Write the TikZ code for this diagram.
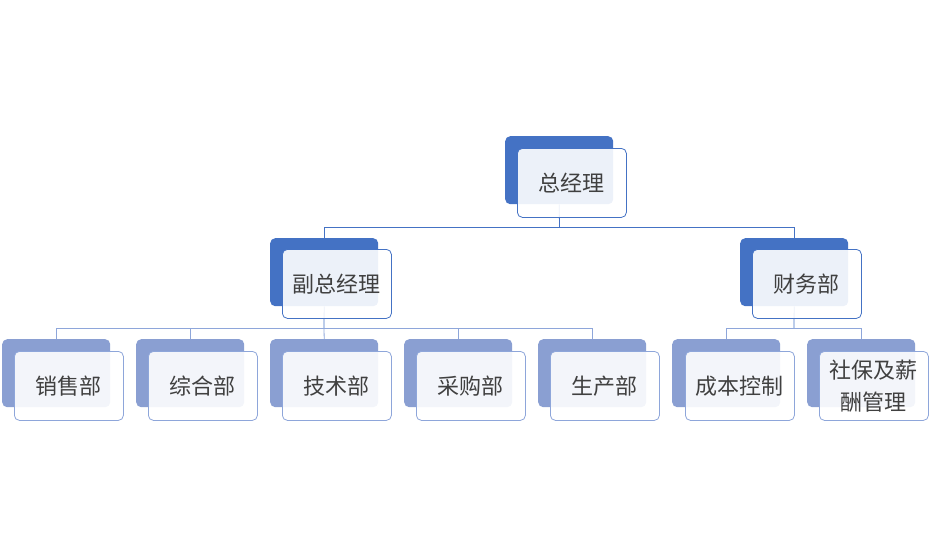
\documentclass[tikz,border=0pt]{standalone}
\usepackage{fontspec}
\setmainfont{Noto Sans CJK SC}
\definecolor{darkb}{HTML}{4472C4}
\definecolor{lightb}{HTML}{8A9FD2}
\definecolor{lightln}{HTML}{8EA6DA}
\definecolor{txt}{HTML}{404040}
\begin{document}
\begin{tikzpicture}[x=1pt,y=-1pt,
  backbox/.style={anchor=north west, rounded corners=5pt, minimum width=108pt, minimum height=68pt, inner sep=0pt, draw=none},
  frontbox/.style={anchor=north west, rounded corners=5pt, minimum width=109pt, minimum height=69pt, inner sep=0pt,
     fill=white, fill opacity=0.9, text opacity=1, line width=0.8pt, align=center, text=txt,
     font=\fontsize{22}{32}\selectfont},
  topback/.style={backbox, fill=darkb},
  topfront/.style={frontbox, draw=darkb},
  lowback/.style={backbox, fill=lightb},
  lowfront/.style={frontbox, draw=lightln},
  darkline/.style={draw=darkb, line width=0.8pt},
  lightline/.style={draw=lightln, line width=0.8pt}]
\useasboundingbox (0,0) rectangle (934,554);
% back boxes
\node[topback] (gm-b) at (505,136) {};
\node[topback] (vp-b) at (270,238) {};
\node[topback] (fin-b) at (740,238) {};
\node[lowback] (c1-b) at (2,339) {};
\node[lowback] (c2-b) at (136,339) {};
\node[lowback] (c3-b) at (270,339) {};
\node[lowback] (c4-b) at (404,339) {};
\node[lowback] (c5-b) at (538,339) {};
\node[lowback] (c6-b) at (672,339) {};
\node[lowback] (c7-b) at (807,339) {};
% connectors
\coordinate (bus0) at (559.5,227);
\coordinate (bus1) at (324,328);
\coordinate (bus2) at (794,328);
\draw[darkline] (gm-b.south) -- (bus0);
\draw[darkline] (bus0) -| (vp-b.north);
\draw[darkline] (bus0) -| (fin-b.north);
\draw[darkline] (vp-b.south) -- (bus1);
\draw[lightline] (bus1) -| (c1-b.north);
\draw[lightline] (bus1) -| (c2-b.north);
\draw[lightline] (bus1) -- (c3-b.north);
\draw[lightline] (bus1) -| (c4-b.north);
\draw[lightline] (bus1) -| (c5-b.north);
\draw[darkline] (fin-b.south) -- (bus2);
\draw[lightline] (bus2) -| (c6-b.north);
\draw[lightline] (bus2) -| (c7-b.north);
% front boxes
\node[topfront] (gm) at (517,148) {总经理};
\node[topfront] (vp) at (282,249) {副总经理};
\node[topfront] (fin) at (752,249) {财务部};
\node[lowfront] (c1) at (14,351) {销售部};
\node[lowfront] (c2) at (148,351) {综合部};
\node[lowfront] (c3) at (282,351) {技术部};
\node[lowfront] (c4) at (416,351) {采购部};
\node[lowfront] (c5) at (550,351) {生产部};
\node[lowfront] (c6) at (685,351) {成本控制};
\node[lowfront] (c7) at (819,351) {社保及薪\\酬管理};
\end{tikzpicture}
\end{document}
